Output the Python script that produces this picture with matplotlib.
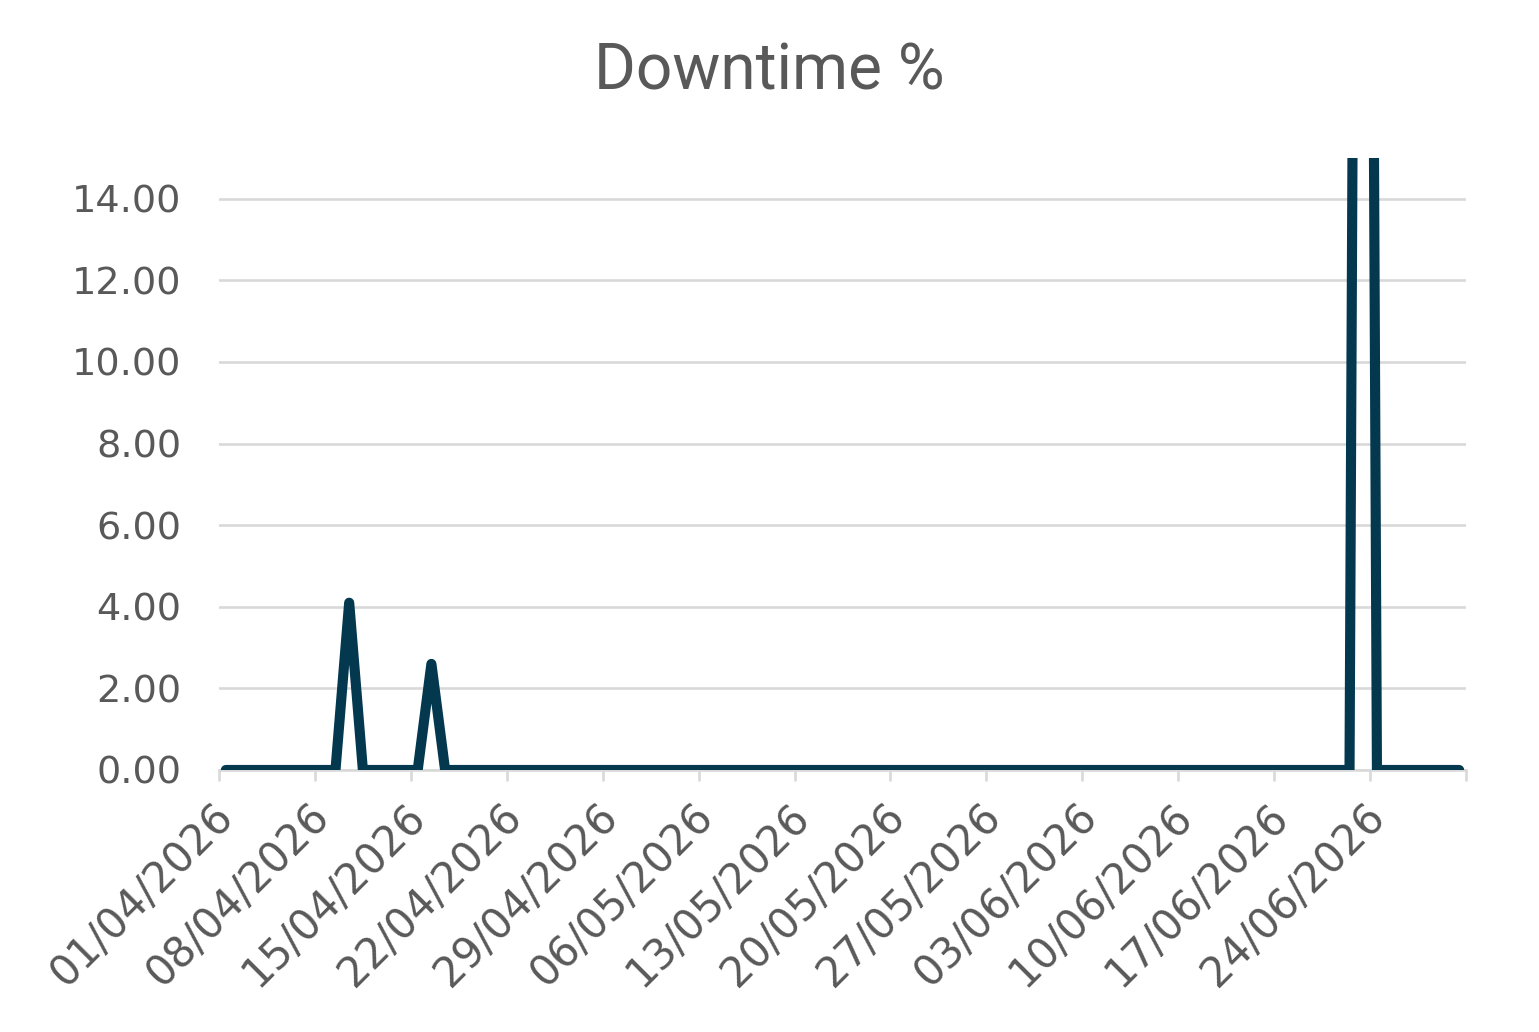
import matplotlib
matplotlib.use("Agg")
import matplotlib.pyplot as plt
from matplotlib.transforms import ScaledTranslation
import pandas as pd

# ---- data (daily values, 01/04/2026 .. 30/06/2026) ----
start_date = "2026-04-01"
n_days = 91
downtime = [
    0, 0, 0, 0, 0, 0, 0, 0, 0, 4.1,      # 01/04 - 10/04
    0, 0, 0, 0, 0, 2.6, 0, 0, 0, 0,      # 11/04 - 20/04
    0, 0, 0, 0, 0, 0, 0, 0, 0, 0,        # 21/04 - 30/04
    0, 0, 0, 0, 0, 0, 0, 0, 0, 0,        # 01/05 - 10/05
    0, 0, 0, 0, 0, 0, 0, 0, 0, 0,        # 11/05 - 20/05
    0, 0, 0, 0, 0, 0, 0, 0, 0, 0,        # 21/05 - 30/05
    0, 0, 0, 0, 0, 0, 0, 0, 0, 0,        # 31/05 - 09/06
    0, 0, 0, 0, 0, 0, 0, 0, 0, 0,        # 10/06 - 19/06
    0, 0, 0, 70.0, 0, 0, 0, 0, 0, 0,     # 20/06 - 29/06
    0,                                   # 30/06
]
tick_labels = ["01/04/2026", "08/04/2026", "15/04/2026", "22/04/2026",
               "29/04/2026", "06/05/2026", "13/05/2026", "20/05/2026",
               "27/05/2026", "03/06/2026", "10/06/2026", "17/06/2026",
               "24/06/2026", ""]
y_ticks = [0, 2, 4, 6, 8, 10, 12, 14]
title = "Downtime %"

# ---- style ----
text_color = "#595959"
grid_color = "#D9D9D9"
line_color = "#03384F"
plt.rcParams['font.family'] = ['DejaVu Sans']

dates = pd.date_range(start_date, periods=n_days, freq="D")
x = dates + pd.Timedelta(hours=12)  # points centred within each day

fig = plt.figure(figsize=(15.39, 10.32), dpi=100)
ax = fig.add_axes([219/1539, 1 - 770/1032, (1466-219)/1539, (770-158)/1032])

ax.plot(x, downtime, color=line_color, lw=7.3, solid_capstyle='round',
        solid_joinstyle='round', zorder=3, clip_on=True)

ax.set_ylim(0, 15)
ax.set_yticks(y_ticks)
ax.set_yticklabels([f"{v:.2f}" for v in y_ticks])
ax.set_xlim(dates[0], dates[0] + pd.Timedelta(days=n_days))
xt = pd.date_range(start_date, periods=len(tick_labels), freq="7D")
ax.set_xticks(xt)
ax.set_xticklabels(tick_labels)

ax.grid(axis='y', color=grid_color, lw=1.9, zorder=0)
ax.set_axisbelow(True)
for s in ["top", "right", "left"]:
    ax.spines[s].set_visible(False)
ax.spines["bottom"].set_color(grid_color)
ax.spines["bottom"].set_linewidth(1.9)
ax.spines["bottom"].set_zorder(1)

ax.tick_params(axis='y', length=0, pad=27, labelsize=27.5, labelcolor=text_color)
ax.tick_params(axis='x', length=8, width=1.9, color=grid_color, pad=8,
               labelsize=30, labelcolor=text_color)
offset = ScaledTranslation(-0.07, -0.03, fig.dpi_scale_trans)
for lab in ax.get_xticklabels():
    lab.set_rotation(45)
    lab.set_ha('right')
    lab.set_va('top')
    lab.set_rotation_mode('anchor')
    lab.set_transform(lab.get_transform() + offset)

fig.text(0.5, 1 - 90/1032, title, ha='center', va='baseline',
         fontsize=46, color=text_color, family=['Roboto', 'DejaVu Sans'])

fig.savefig("out.png", dpi=100, facecolor="white")
